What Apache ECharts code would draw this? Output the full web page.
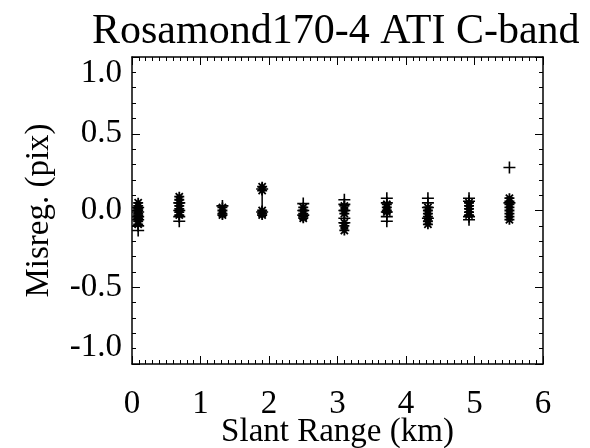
<!DOCTYPE html>
<html>
<head>
<meta charset="utf-8">
<script src="https://cdn.jsdelivr.net/npm/echarts@6/dist/echarts.min.js"></script>
<style>
  html, body { margin: 0; padding: 0; background: #fff; }
  #chart { width: 590px; height: 448px; }
</style>
</head>
<body>
<div id="chart"></div>
<script>
// Misregistration measurements grouped by slant range (km)
const rangeStops = [0.09, 0.69, 1.32, 1.90, 2.50, 3.10, 3.72, 4.32, 4.92, 5.51];

// Asterisk-marked samples, one list per slant-range stop
const starValues = [
  [0.05, 0.03, 0.01, 0.0, -0.02, -0.03, -0.05, -0.07, -0.09],
  [0.09, 0.07, 0.05, 0.03, 0.01, -0.01, -0.03],
  [0.02, 0.0, -0.02, -0.03],
  [0.155, 0.13, 0.0, -0.02, -0.03],
  [0.02, 0.0, -0.02, -0.04, -0.05],
  [0.03, 0.0, -0.02, -0.08, -0.10, -0.13],
  [0.04, 0.02, 0.0, -0.01],
  [0.02, 0.0, -0.02, -0.04, -0.07, -0.09],
  [0.05, 0.03, 0.01, -0.01, -0.03],
  [0.08, 0.06, 0.04, 0.02, 0.0, -0.02, -0.04, -0.06]
];

// Plus-marked samples, one list per slant-range stop
const plusValues = [
  [0.02, -0.01, -0.04, -0.06, -0.10, -0.13],
  [0.05, 0.0, -0.04, -0.07],
  [0.03],
  [0.14, -0.01],
  [0.045, 0.0, -0.03],
  [0.07, 0.04, 0.0, -0.05, -0.08],
  [0.08, 0.05, -0.01, -0.04, -0.07],
  [0.08, 0.05, 0.02, -0.05],
  [0.08, 0.06, -0.04, -0.06],
  [0.28, 0.05]
];

// Vertical spread segment at the 1.9 km stop
const spreadSegment = [[1.90, 0.13], [1.90, 0.0]];

const xTicks = [0, 1, 2, 3, 4, 5, 6];
const yTicks = [-1.0, -0.5, 0.0, 0.5, 1.0];

function pairs(values) {
  const out = [];
  values.forEach((list, i) => list.forEach(v => out.push([rangeStops[i], v])));
  return out;
}

const FONT = '"Liberation Serif", "DejaVu Serif", serif';
const STAR = 'path://M0,-5L0,5M-5,0L5,0M-3.6,-3.6L3.6,3.6M-3.6,3.6L3.6,-3.6';
const PLUS = 'path://M-6,0L6,0M0,-6L0,6';

const tickCommon = {
  axisLine: { show: true, onZero: false, lineStyle: { color: '#000', width: 1.5 } },
  axisTick: { show: true, inside: true, length: 8, lineStyle: { color: '#000', width: 1 } },
  minorTick: { show: true, length: 4, lineStyle: { color: '#000', width: 1 } },
  splitLine: { show: false }
};

const chart = echarts.init(document.getElementById('chart'), null, { renderer: 'canvas' });
chart.setOption({
  backgroundColor: '#fff',
  animation: false,
  title: {
    text: 'Rosamond170-4 ATI C-band',
    left: 87, top: 6,
    textStyle: { fontFamily: FONT, fontSize: 42, fontWeight: 'normal', color: '#000' }
  },
  grid: { left: 132, right: 47, top: 57, bottom: 84, containLabel: false, outerBoundsMode: 'none' },
  xAxis: [
    Object.assign({
      type: 'value', min: xTicks[0], max: xTicks[xTicks.length - 1], interval: 1,
      position: 'bottom',
      name: 'Slant Range (km)', nameLocation: 'middle', nameGap: 52, nameMoveOverlap: false,
      nameTextStyle: { fontFamily: FONT, fontSize: 33, color: '#000' },
      axisLabel: { margin: 24, fontFamily: FONT, fontSize: 33, color: '#000' }
    }, tickCommon, { minorTick: Object.assign({}, tickCommon.minorTick, { splitNumber: 10 }) }),
    Object.assign({
      type: 'value', min: xTicks[0], max: xTicks[xTicks.length - 1], interval: 1,
      position: 'top', axisLabel: { show: false }
    }, tickCommon, { minorTick: Object.assign({}, tickCommon.minorTick, { splitNumber: 10 }) })
  ],
  yAxis: [
    Object.assign({
      type: 'value', min: yTicks[0], max: yTicks[yTicks.length - 1], interval: 0.5,
      position: 'left',
      name: 'Misreg. (pix)', nameLocation: 'middle', nameGap: 76, nameRotate: 90, nameMoveOverlap: false,
      nameTextStyle: { fontFamily: FONT, fontSize: 33, color: '#000' },
      axisLabel: { margin: 10, fontFamily: FONT, fontSize: 33, color: '#000',
        verticalAlignMaxLabel: 'top', verticalAlignMinLabel: 'bottom',
        formatter: v => v.toFixed(1) }
    }, tickCommon, { minorTick: Object.assign({}, tickCommon.minorTick, { splitNumber: 5 }) }),
    Object.assign({
      type: 'value', min: yTicks[0], max: yTicks[yTicks.length - 1], interval: 0.5,
      position: 'right', axisLabel: { show: false }
    }, tickCommon, { minorTick: Object.assign({}, tickCommon.minorTick, { splitNumber: 5 }) })
  ],
  series: [
    {
      type: 'line', data: spreadSegment, symbol: 'none',
      lineStyle: { color: '#000', width: 1.5 }, silent: true
    },
    {
      type: 'scatter', data: pairs(starValues), symbol: STAR, symbolSize: 10,
      itemStyle: { color: 'none', borderColor: '#000', borderWidth: 1.8, opacity: 1 }
    },
    {
      type: 'scatter', data: pairs(plusValues), symbol: PLUS, symbolSize: 12,
      itemStyle: { color: 'none', borderColor: '#000', borderWidth: 1.6, opacity: 1 }
    }
  ]
});
</script>
</body>
</html>
